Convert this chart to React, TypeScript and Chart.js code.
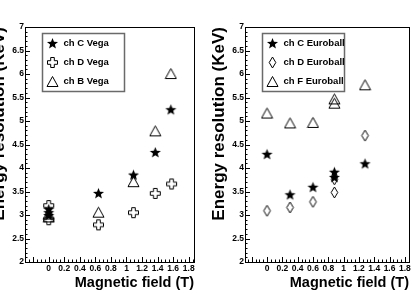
import React, { useEffect, useRef } from 'react';
import { Chart, registerables } from 'chart.js';
Chart.register(...registerables);

// ---- data ----
const xTickLabels = [0, 0.2, 0.4, 0.6, 0.8, 1, 1.2, 1.4, 1.6, 1.8];
const yTickLabels = [2, 2.5, 3, 3.5, 4, 4.5, 5, 5.5, 6, 6.5, 7];
const xTitle = 'Magnetic field (T)';
const yTitle = 'Energy resolution (KeV)';

const vegaLabels = ['ch C Vega', 'ch D Vega', 'ch B Vega'];
const vegaCX = [0, 0, 0, 0.64, 1.09, 1.37, 1.57];
const vegaCY = [3.12, 3.05, 2.99, 3.46, 3.85, 4.33, 5.24];
const vegaDX = [0, 0, 0.64, 1.09, 1.37, 1.58];
const vegaDY = [3.2, 2.9, 2.79, 3.05, 3.46, 3.66];
const vegaBX = [0, 0, 0.64, 1.09, 1.37, 1.57];
const vegaBY = [3.02, 2.96, 3.06, 3.71, 4.79, 6.01];

const euroLabels = ['ch C Euroball', 'ch D Euroball', 'ch F Euroball'];
const euroCX = [0, 0.3, 0.6, 0.88, 0.88, 1.28];
const euroCY = [4.29, 3.43, 3.59, 3.91, 3.8, 4.09];
const euroDX = [0, 0.3, 0.6, 0.88, 0.88, 1.28];
const euroDY = [3.09, 3.16, 3.28, 3.48, 3.76, 4.69];
const euroFX = [0, 0.3, 0.6, 0.88, 0.88, 1.28];
const euroFY = [5.17, 4.96, 4.97, 5.47, 5.38, 5.77];

const FONT = '"Liberation Sans", Arial, Helvetica, sans-serif';

// ---- markers ----
type MarkerKind = 'star' | 'cross' | 'triangle' | 'diamond';
function makeMarker(kind: MarkerKind): HTMLCanvasElement {
  const c = document.createElement('canvas');
  const s = 13;
  c.width = s; c.height = s;
  const g = c.getContext('2d')!;
  const cx = s / 2, cy = s / 2;
  g.strokeStyle = '#000';
  g.fillStyle = '#000';
  g.lineWidth = 1;
  g.beginPath();
  if (kind === 'star') {
    const R = 5.8, r = 2.5;
    for (let i = 0; i < 10; i++) {
      const rad = i % 2 === 0 ? R : r;
      const ang = -Math.PI / 2 + (i * Math.PI) / 5;
      const px = cx + rad * Math.cos(ang), py = cy + 0.3 + rad * Math.sin(ang);
      if (i === 0) g.moveTo(px, py); else g.lineTo(px, py);
    }
    g.closePath();
    g.fill();
  } else if (kind === 'cross') {
    const h = 5, a = 1.8;
    const pts = [
      [-a, -h], [a, -h], [a, -a], [h, -a], [h, a], [a, a],
      [a, h], [-a, h], [-a, a], [-h, a], [-h, -a], [-a, -a],
    ];
    pts.forEach(([x, y], i) => {
      if (i === 0) g.moveTo(cx + x, cy + y); else g.lineTo(cx + x, cy + y);
    });
    g.closePath();
    g.stroke();
  } else if (kind === 'triangle') {
    g.moveTo(cx, cy - 5);
    g.lineTo(cx + 5.5, cy + 5);
    g.lineTo(cx - 5.5, cy + 5);
    g.closePath();
    g.stroke();
  } else {
    g.moveTo(cx, cy - 5.5);
    g.lineTo(cx + 3.3, cy);
    g.lineTo(cx, cy + 5.5);
    g.lineTo(cx - 3.3, cy);
    g.closePath();
    g.stroke();
  }
  return c;
}

// ---- plugin: ROOT-style frame, inward ticks, legend ----
const rootPlugin = {
  id: 'rootStyle',
  afterDraw(chart: any, _args: any, opts: any) {
    const { ctx, chartArea: a, scales } = chart;
    const x = scales.x, y = scales.y;
    ctx.save();
    ctx.strokeStyle = '#000';
    ctx.lineWidth = 1;
    ctx.beginPath();
    const xStep = 0.05, xMajor = 0.2;
    for (let i = Math.ceil(x.min / xStep - 1e-9); i * xStep <= x.max + 1e-9; i++) {
      const v = i * xStep;
      const px = Math.round(x.getPixelForValue(v)) + 0.5;
      const major = Math.abs(Math.round(v / xMajor) * xMajor - v) < 1e-6;
      const len = major ? 5 : 2.5;
      ctx.moveTo(px, a.bottom);
      ctx.lineTo(px, a.bottom - len);
    }
    const yStep = 0.1, yMajor = 0.5;
    for (let i = Math.ceil(y.min / yStep - 1e-9); i * yStep <= y.max + 1e-9; i++) {
      const v = i * yStep;
      const py = Math.round(y.getPixelForValue(v)) + 0.5;
      const major = Math.abs(Math.round(v / yMajor) * yMajor - v) < 1e-6;
      const len = major ? 5 : 2.5;
      ctx.moveTo(a.left, py);
      ctx.lineTo(a.left + len, py);
    }
    ctx.stroke();
    ctx.strokeRect(Math.round(a.left) + 0.5, Math.round(a.top) + 0.5,
      Math.round(a.right - a.left), Math.round(a.bottom - a.top));

    // legend
    const bx = Math.round(a.left + 17) + 0.5, by = Math.round(a.top + 6) + 0.5;
    const bw = 82, bh = 58;
    ctx.fillStyle = '#fff';
    ctx.fillRect(bx, by, bw, bh);
    ctx.strokeStyle = '#6a6a6a';
    ctx.lineWidth = 1.5;
    ctx.strokeRect(bx, by, bw, bh);
    ctx.fillStyle = '#000';
    ctx.font = 'bold 9.5px ' + FONT;
    ctx.textBaseline = 'middle';
    ctx.textAlign = 'left';
    const labels: string[] = opts.labels;
    const markers: HTMLCanvasElement[] = opts.markers;
    labels.forEach((lab, i) => {
      const rowY = by + 10 + i * 19;
      const m = markers[i];
      ctx.drawImage(m, Math.round(bx + 10 - m.width / 2), Math.round(rowY - m.height / 2));
      ctx.fillText(lab, bx + 21, rowY);
    });
    ctx.restore();
  },
};

function toPts(xs: number[], ys: number[]) {
  return xs.map((v, i) => ({ x: v, y: ys[i] }));
}

type PanelProps = {
  left: number;
  width: number;
  padRight: number;
  xMin: number;
  xMax: number;
  labels: string[];
  series: { xs: number[]; ys: number[]; kind: MarkerKind }[];
};

function Panel(p: PanelProps) {
  const ref = useRef<HTMLCanvasElement>(null);
  useEffect(() => {
    const markers = p.series.map((s) => makeMarker(s.kind));
    const chart = new Chart(ref.current!, {
      type: 'scatter',
      data: {
        datasets: p.series.map((s, i) => ({
          label: p.labels[i],
          data: toPts(s.xs, s.ys),
          pointStyle: markers[i] as any,
          pointRadius: 5,
          showLine: false,
        })),
      },
      options: {
        responsive: false,
        animation: false,
        devicePixelRatio: 1,
        layout: { padding: { top: 27, right: p.padRight, left: 0, bottom: 0 } },
        plugins: {
          legend: { display: false },
          tooltip: { enabled: false },
          rootStyle: { labels: p.labels, markers },
        } as any,
        scales: {
          x: {
            type: 'linear',
            min: p.xMin,
            max: p.xMax,
            grid: { display: false, drawTicks: false },
            border: { display: false },
            afterBuildTicks: (s: any) => {
              s.ticks = xTickLabels.map((v) => ({ value: v }));
            },
            afterFit: (s: any) => {
              s.height = 32;
              s.paddingLeft = 0;
              s.paddingRight = 0;
            },
            ticks: {
              autoSkip: false,
              maxRotation: 0,
              padding: 2,
              color: '#000',
              font: { family: FONT, size: 8.5, weight: 'bold' },
              callback: (v: any) => String(v),
            },
            title: {
              display: true,
              text: xTitle,
              align: 'end',
              color: '#000',
              padding: { top: 0, bottom: 2 },
              font: { family: FONT, size: 14.5, weight: 'bold' },
            },
          },
          y: {
            type: 'linear',
            min: yTickLabels[0],
            max: yTickLabels[yTickLabels.length - 1],
            grid: { display: false, drawTicks: false },
            border: { display: false },
            afterBuildTicks: (s: any) => {
              s.ticks = yTickLabels.map((v) => ({ value: v }));
            },
            afterFit: (s: any) => {
              s.width = 45;
              s.paddingTop = 0;
              s.paddingBottom = 0;
            },
            ticks: {
              autoSkip: false,
              padding: 1,
              color: '#000',
              font: { family: FONT, size: 8.5, weight: 'bold' },
              callback: (v: any) => String(v),
            },
            title: {
              display: true,
              text: yTitle,
              align: 'end',
              color: '#000',
              padding: { top: 9, bottom: 0 },
              font: { family: FONT, size: 17, weight: 'bold' },
            },
          },
        },
      },
      plugins: [rootPlugin as any],
    });
    return () => chart.destroy();
  }, []);
  return (
    <canvas
      ref={ref}
      width={p.width}
      height={294}
      style={{ position: 'absolute', left: p.left, top: 0, width: p.width, height: 294 }}
    />
  );
}

export default function App() {
  return (
    <div
      style={{
        position: 'absolute', left: 0, top: 0, width: 415, height: 294,
        overflow: 'hidden', background: '#fff',
      }}
    >
      <Panel
        left={-20}
        width={220}
        padRight={6}
        xMin={-0.305}
        xMax={1.868}
        labels={vegaLabels}
        series={[
          { xs: vegaCX, ys: vegaCY, kind: 'star' },
          { xs: vegaDX, ys: vegaDY, kind: 'cross' },
          { xs: vegaBX, ys: vegaBY, kind: 'triangle' },
        ]}
      />
      <Panel
        left={200}
        width={215}
        padRight={1}
        xMin={-0.288}
        xMax={1.854}
        labels={euroLabels}
        series={[
          { xs: euroCX, ys: euroCY, kind: 'star' },
          { xs: euroDX, ys: euroDY, kind: 'diamond' },
          { xs: euroFX, ys: euroFY, kind: 'triangle' },
        ]}
      />
    </div>
  );
}
